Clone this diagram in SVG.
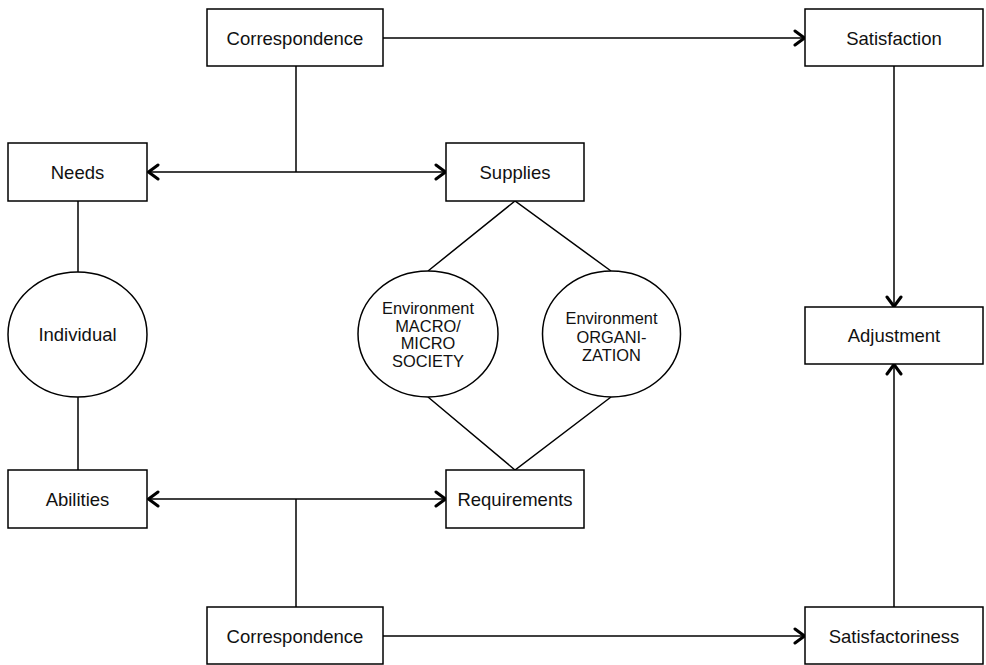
<svg xmlns="http://www.w3.org/2000/svg" width="986" height="665" viewBox="0 0 986 665">
<style>
  .box { fill: #fff; stroke: #000; stroke-width: 1.5; }
  .ell { fill: #fff; stroke: #000; stroke-width: 1.5; }
  .lbl { font-family: "Liberation Sans", Arial, sans-serif; font-size: 18.5px; fill: #111; text-anchor: middle; }
  .sm { font-family: "Liberation Sans", Arial, sans-serif; font-size: 16.4px; fill: #111; text-anchor: middle; }
  .con { fill: none; stroke: #000; stroke-width: 1.5; }
</style>
<defs>
  <marker id="arr" viewBox="0 0 14 18" refX="12.5" refY="9" markerWidth="14" markerHeight="18" markerUnits="userSpaceOnUse" orient="auto">
    <path d="M2.5,2 L12,9 L2.5,16" fill="none" stroke="#000" stroke-width="3" stroke-linecap="round" stroke-linejoin="round"/>
  </marker>
</defs>
<rect width="986" height="665" fill="#fff"/>
<g id="connectors">
  <path class="con" d="M383,38 H805" marker-end="url(#arr)"/>
  <path class="con" d="M296,66 V172"/>
  <path class="con" d="M296,172 H148" marker-end="url(#arr)"/>
  <path class="con" d="M296,172 H446" marker-end="url(#arr)"/>
  <path class="con" d="M78,201 V272"/>
  <path class="con" d="M78,397 V470"/>
  <path class="con" d="M428,271 L515,201 L611,271"/>
  <path class="con" d="M428,397 L515,470 L611,397"/>
  <path class="con" d="M296,499 H148" marker-end="url(#arr)"/>
  <path class="con" d="M296,499 H446" marker-end="url(#arr)"/>
  <path class="con" d="M296,499 V607"/>
  <path class="con" d="M383,636 H805" marker-end="url(#arr)"/>
  <path class="con" d="M894,66 V307" marker-end="url(#arr)"/>
  <path class="con" d="M894,607 V364" marker-end="url(#arr)"/>
</g>
<g id="correspondence-top">
  <rect class="box" x="207" y="9" width="176" height="57"/>
  <text class="lbl" x="295" y="44.5">Correspondence</text>
</g>
<g id="satisfaction">
  <rect class="box" x="805" y="9" width="178" height="57"/>
  <text class="lbl" x="894" y="44.5">Satisfaction</text>
</g>
<g id="needs">
  <rect class="box" x="8" y="143" width="139" height="58"/>
  <text class="lbl" x="77.5" y="178.5">Needs</text>
</g>
<g id="supplies">
  <rect class="box" x="446" y="143" width="138" height="58"/>
  <text class="lbl" x="515" y="178.5">Supplies</text>
</g>
<g id="individual">
  <ellipse class="ell" cx="77.5" cy="334.5" rx="69.5" ry="62.5"/>
  <text class="lbl" x="77.5" y="341">Individual</text>
</g>
<g id="env-macro-micro">
  <ellipse class="ell" cx="428" cy="334" rx="70" ry="63"/>
  <text class="sm" x="428" y="314">Environment</text>
  <text class="sm" x="428" y="331.5">MACRO/</text>
  <text class="sm" x="428" y="349">MICRO</text>
  <text class="sm" x="428" y="366.5">SOCIETY</text>
</g>
<g id="env-organization">
  <ellipse class="ell" cx="611.5" cy="334" rx="69" ry="63"/>
  <text class="sm" x="611.5" y="324">Environment</text>
  <text class="sm" x="611.5" y="342.5">ORGANI-</text>
  <text class="sm" x="611.5" y="361">ZATION</text>
</g>
<g id="adjustment">
  <rect class="box" x="805" y="307" width="178" height="57"/>
  <text class="lbl" x="894" y="342">Adjustment</text>
</g>
<g id="abilities">
  <rect class="box" x="8" y="470" width="139" height="58"/>
  <text class="lbl" x="77.5" y="505.5">Abilities</text>
</g>
<g id="requirements">
  <rect class="box" x="446" y="470" width="138" height="58"/>
  <text class="lbl" x="515" y="505.5">Requirements</text>
</g>
<g id="correspondence-bottom">
  <rect class="box" x="207" y="607" width="176" height="57"/>
  <text class="lbl" x="295" y="642.5">Correspondence</text>
</g>
<g id="satisfactoriness">
  <rect class="box" x="805" y="607" width="178" height="57"/>
  <text class="lbl" x="894" y="642.5">Satisfactoriness</text>
</g>
</svg>
